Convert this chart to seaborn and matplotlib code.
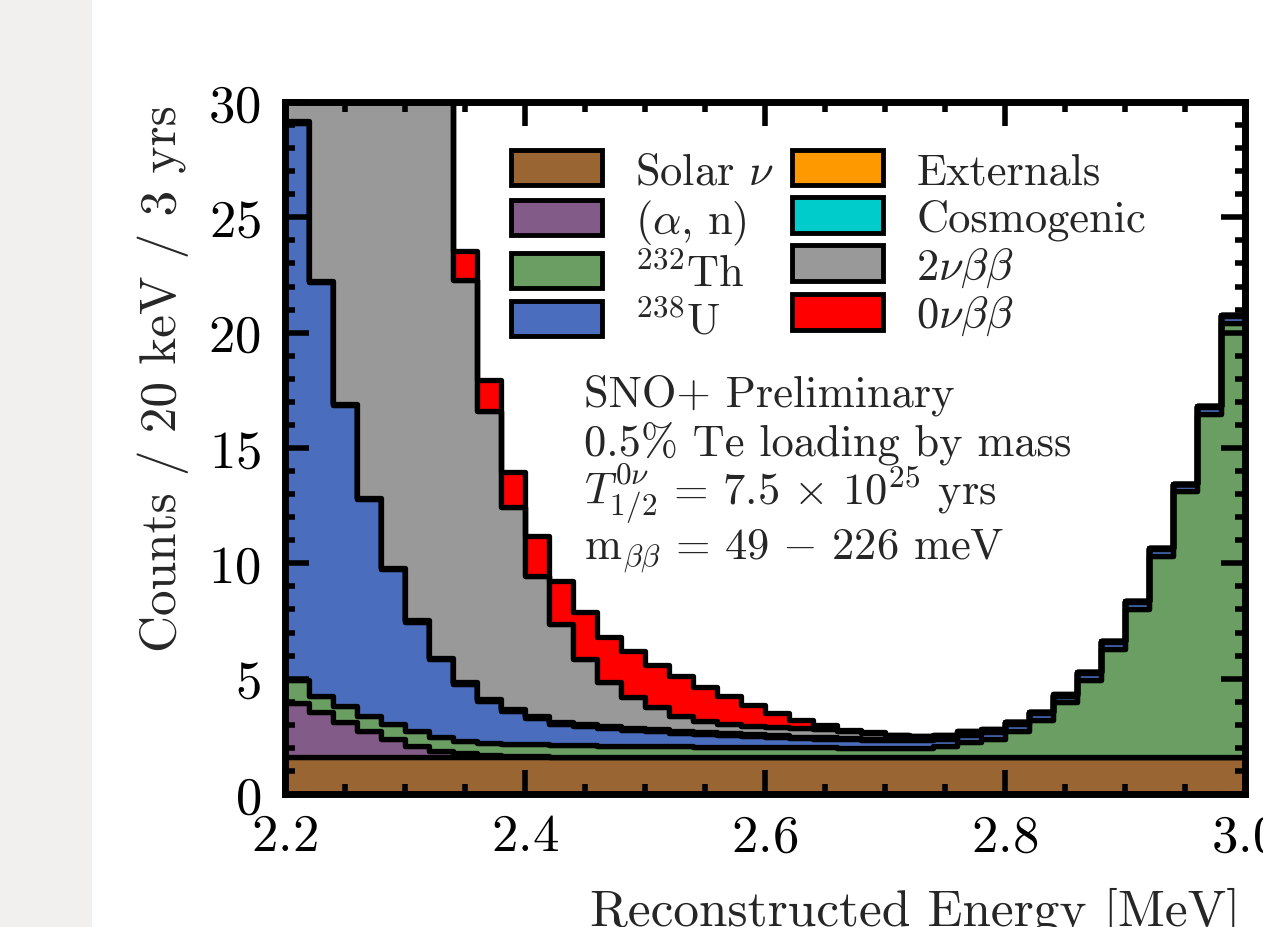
import numpy as np
import pandas as pd
import matplotlib
matplotlib.use("Agg")
import matplotlib.pyplot as plt
from matplotlib.patches import Patch, Rectangle
from matplotlib.ticker import MultipleLocator
import seaborn as sns

# ---------------- data (counts per 20 keV bin, 2.20 - 3.00 MeV) ----------------
bin_edges = [round(2.20 + 0.02 * i, 3) for i in range(41)]
bin_centers = [round(e + 0.01, 3) for e in bin_edges[:-1]]

solar = [1.6, 1.6, 1.6, 1.6, 1.6, 1.6, 1.6, 1.6, 1.6, 1.6,
         1.6, 1.6, 1.6, 1.6, 1.6, 1.6, 1.6, 1.6, 1.6, 1.6,
         1.6, 1.6, 1.6, 1.6, 1.6, 1.6, 1.6, 1.6, 1.6, 1.6,
         1.6, 1.6, 1.6, 1.6, 1.6, 1.6, 1.6, 1.6, 1.6, 1.6]
alpha_n = [2.34, 1.94, 1.53, 1.14, 0.78, 0.49, 0.28, 0.16, 0.10, 0.06,
           0.03, 0.02, 0.01, 0.01, 0.0, 0.0, 0.0, 0.0, 0.0, 0.0,
           0.0, 0.0, 0.0, 0.0, 0.0, 0.0, 0.0, 0.0, 0.0, 0.0,
           0.0, 0.0, 0.0, 0.0, 0.0, 0.0, 0.0, 0.0, 0.0, 0.0]
th232 = [1.01, 0.72, 0.70, 0.65, 0.65, 0.65, 0.57, 0.52, 0.52, 0.52,
         0.52, 0.51, 0.50, 0.49, 0.48, 0.47, 0.46, 0.45, 0.45, 0.44,
         0.44, 0.43, 0.42, 0.41, 0.40, 0.40, 0.40, 0.47, 0.65, 0.80,
         1.15, 1.61, 2.37, 3.34, 4.69, 6.42, 8.73, 11.52, 14.87, 18.84]
u238 = [24.15, 17.94, 13.03, 9.40, 6.72, 4.73, 3.40, 2.50, 1.83, 1.42,
        1.15, 0.92, 0.84, 0.75, 0.70, 0.65, 0.60, 0.55, 0.50, 0.46,
        0.42, 0.40, 0.38, 0.36, 0.34, 0.33, 0.32, 0.32, 0.30, 0.30,
        0.30, 0.30, 0.30, 0.30, 0.30, 0.30, 0.30, 0.30, 0.30, 0.30]
externals = [0.05, 0.05, 0.05, 0.05, 0.05, 0.05, 0.05, 0.05, 0.08, 0.08,
             0.08, 0.08, 0.08, 0.08, 0.08, 0.08, 0.08, 0.08, 0.08, 0.08,
             0.08, 0.05, 0.05, 0.05, 0.05, 0.05, 0.05, 0.05, 0.05, 0.05,
             0.05, 0.03, 0.03, 0.03, 0.03, 0.03, 0.03, 0.03, 0.03, 0.03]
cosmogenic = [0.01, 0.01, 0.01, 0.01, 0.01, 0.01, 0.01, 0.01, 0.01, 0.01,
              0.01, 0.01, 0.01, 0.01, 0.01, 0.01, 0.01, 0.01, 0.01, 0.01,
              0.01, 0.01, 0.01, 0.01, 0.01, 0.01, 0.01, 0.01, 0.01, 0.01,
              0.01, 0.01, 0.01, 0.01, 0.01, 0.01, 0.01, 0.01, 0.01, 0.01]
two_nu = [150.0, 115.0, 88.0, 66.0, 50.0, 38.0, 29.0, 17.46, 12.48, 8.74,
          6.04, 4.23, 2.81, 1.90, 1.32, 0.95, 0.64, 0.46, 0.39, 0.37,
          0.35, 0.36, 0.34, 0.29, 0.25, 0.17, 0.14, 0.10, 0.12, 0.05,
          0.02, 0.01, 0.01, 0.0, 0.0, 0.0, 0.0, 0.0, 0.0, 0.0]
zero_nu = [0.55, 0.65, 0.75, 0.85, 0.95, 1.05, 1.15, 1.25, 1.34, 1.54,
           1.77, 1.88, 2.05, 1.95, 2.02, 1.83, 1.71, 1.47, 1.20, 0.91,
           0.61, 0.37, 0.19, 0.07, 0.02, 0.01, 0.01, 0.01, 0.01, 0.01,
           0.0, 0.0, 0.0, 0.0, 0.0, 0.0, 0.0, 0.0, 0.0, 0.0]

# bottom -> top of the stack
comp_keys = ["solar", "alpha_n", "th232", "u238", "externals", "cosmogenic", "two_nu", "zero_nu"]
comp_values = [solar, alpha_n, th232, u238, externals, cosmogenic, two_nu, zero_nu]
comp_labels = [r"Solar $\nu$", r"$(\alpha,\,\mathrm{n})$", r"$^{232}$Th", r"$^{238}$U",
               "Externals", "Cosmogenic", r"$2\nu\beta\beta$", r"$0\nu\beta\beta$"]
comp_colors = ["#996633", "#835b88", "#6a9e62", "#4a6ebd",
               "#ff9900", "#00cccc", "#999999", "#ff0000"]

df = pd.DataFrame({
    "energy": np.tile(np.asarray(bin_centers, float), len(comp_keys)),
    "counts": np.concatenate([np.asarray(v, float) for v in comp_values]),
    "component": np.repeat(comp_keys, len(bin_centers)),
})
palette = dict(zip(comp_keys, comp_colors))

# ---------------- style ----------------
sns.set_theme(style="ticks")
plt.rcParams.update({
    "font.family": ["cmr10"],
    "mathtext.fontset": "cm",
    "axes.formatter.use_mathtext": True,
    "axes.unicode_minus": True,
    "axes.axisbelow": False,
})

W, H = 1263, 928
fig = plt.figure(figsize=(W / 100, H / 100), dpi=100)
fig.patches.append(Rectangle((0, 0), 92 / W, 1, transform=fig.transFigure,
                             facecolor="#f1f0ee", edgecolor="none", zorder=-10))

ax_l, ax_r, ax_t, ax_b = 284.5, 1245.0, 103.0, 795.0
ax = fig.add_axes([ax_l / W, (H - ax_b) / H, (ax_r - ax_l) / W, (ax_b - ax_t) / H])
ax.set_facecolor("white")

# seaborn stacks the first hue level on top -> give top-to-bottom order
sns.histplot(data=df, x="energy", weights="counts", hue="component",
             hue_order=comp_keys[::-1], palette=palette, multiple="stack",
             bins=bin_edges, element="step", fill=True, alpha=1,
             edgecolor="black", linewidth=3.8, legend=False, ax=ax)
ax.set_axisbelow(False)

ax.set_xlim(2.2, 3.0)
ax.set_ylim(0, 30)
ax.xaxis.set_major_locator(MultipleLocator(0.2))
ax.xaxis.set_minor_locator(MultipleLocator(0.05))
ax.yaxis.set_major_locator(MultipleLocator(5))
ax.yaxis.set_minor_locator(MultipleLocator(1))

for sp in ax.spines.values():
    sp.set_visible(True)
    sp.set_linewidth(5)
    sp.set_color("black")
    sp.set_zorder(5)

ax.tick_params(which="both", direction="in", top=True, right=True,
               width=4, color="black", labelcolor="black")
ax.tick_params(which="major", length=17, labelsize=38)
ax.tick_params(which="minor", length=7.5)
ax.tick_params(axis="x", which="major", pad=14)
ax.tick_params(axis="y", which="major", pad=17)

ax.set_xlabel("Reconstructed Energy [MeV]", fontsize=37)
ax.xaxis.set_label_coords((1240 - ax_l) / (ax_r - ax_l), -(926 - ax_b) / (ax_b - ax_t))
ax.xaxis.label.set_ha("right")
ax.xaxis.label.set_va("baseline")

ax.set_ylabel("Counts / 20 keV / 3 yrs", fontsize=37)
ax.yaxis.set_label_coords((163 - ax_l) / (ax_r - ax_l), (ax_b - 105) / (ax_b - ax_t))
ax.yaxis.label.set_ha("right")
ax.yaxis.label.set_va("center")

handles = [Patch(facecolor=c, edgecolor="black", linewidth=3.5) for c in comp_colors]
ax.legend(handles, comp_labels, ncol=2, loc="upper left",
          bbox_to_anchor=((511 - ax_l) / (ax_r - ax_l), (ax_b - 151) / (ax_b - ax_t)),
          frameon=False, fontsize=32, handlelength=2.05, handleheight=0.85,
          handletextpad=0.75, columnspacing=0.39, labelspacing=0.12,
          borderpad=0, borderaxespad=0)

info_lines = ["SNO+ Preliminary",
              "0.5% Te loading by mass",
              r"$T^{0\nu}_{1/2}\,=\,7.5\,\times\,10^{25}$ yrs",
              r"$\mathrm{m}_{\beta\beta}\,=\,49\,-\,226$ meV"]
info_baselines = [407, 456, 505, 560]
for txt, yb in zip(info_lines, info_baselines):
    ax.text((584 - ax_l) / (ax_r - ax_l), (ax_b - yb) / (ax_b - ax_t), txt,
            transform=ax.transAxes, fontsize=32, va="baseline", ha="left")

fig.savefig("out.png", dpi=100)
